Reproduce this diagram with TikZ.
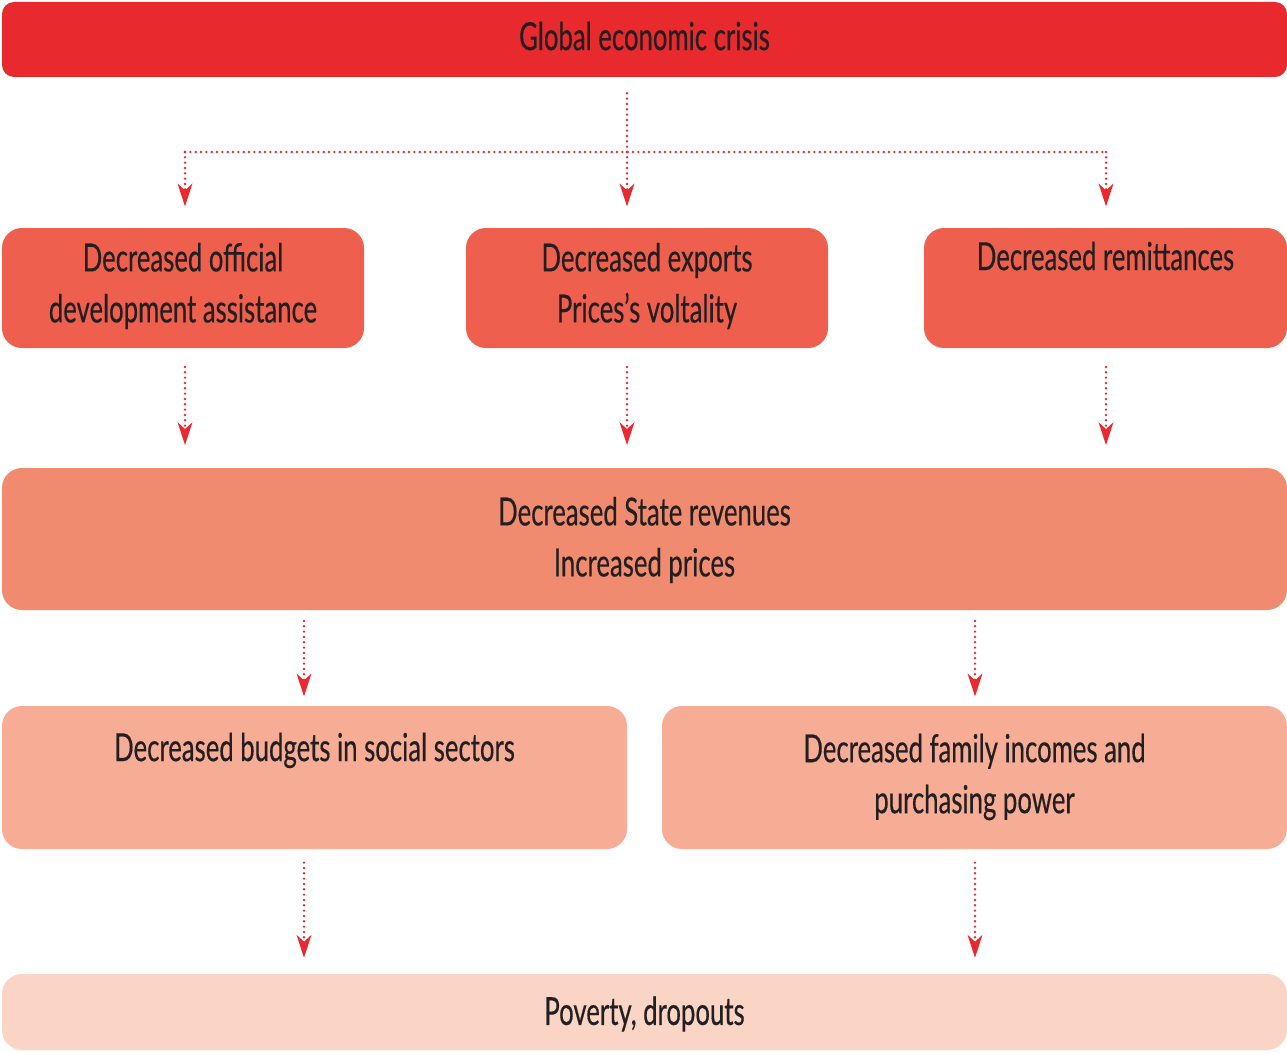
\documentclass[tikz,border=0pt]{standalone}
\usepackage{fontspec}
\setmainfont{Lato}[FakeStretch=0.665, FakeBold=0.35]
\usetikzlibrary{arrows.meta}
\definecolor{cTop}{HTML}{E8292E}
\definecolor{cRowA}{HTML}{EE604D}
\definecolor{cRowB}{HTML}{F18B70}
\definecolor{cRowC}{HTML}{F6AC95}
\definecolor{cRowD}{HTML}{FAD5C5}
\definecolor{cArrow}{HTML}{E8292E}
\definecolor{cText}{HTML}{231F20}
\tikzset{
  boxshape/.style={rounded corners=#1, inner sep=0pt, draw=none},
  txt/.style={align=center, text=cText, inner sep=0pt,
    font=\fontsize{29pt}{38.25pt}\selectfont},
  dotline/.style={draw=cArrow, line width=2pt, line cap=round,
    dash pattern=on 0pt off 4pt},
  dotarrow/.style={dotline, -{Stealth[length=17pt, width=11pt, inset=5pt]}},
}
\begin{document}
\begin{tikzpicture}[x=0.75pt, y=-0.75pt]
\useasboundingbox (0,0) rectangle (1287,1052);
% boxes
\node[boxshape=9pt, fill=cTop, minimum width=963.75pt, minimum height=56.25pt] (top) at (644.5,39.5) {};
\node[txt] (topT) at (644.5,36) {Global economic crisis};

\node[boxshape=15pt, fill=cRowA, minimum width=271.5pt, minimum height=90pt] (oda) at (183,288) {};
\node[txt] (odaT) at (183,286) {Decreased official\\development assistance};
\node[boxshape=15pt, fill=cRowA, minimum width=271.5pt, minimum height=90pt] (exp) at (647,288) {};
\node[txt] (expT) at (647,286) {Decreased exports\\Prices’s voltality};
\node[boxshape=15pt, fill=cRowA, minimum width=272.25pt, minimum height=90pt] (rem) at (1105.5,288) {};
\node[txt] (remT) at (1105.5,289) {Decreased remittances\\\strut};

\node[boxshape=15pt, fill=cRowB, minimum width=963.75pt, minimum height=106.5pt] (state) at (644.5,539) {};
\node[txt] (stateT) at (644.5,540) {Decreased State revenues\\Increased prices};

\node[boxshape=15pt, fill=cRowC, minimum width=468.75pt, minimum height=107.25pt] (bud) at (314.5,777.5) {};
\node[txt] (budT) at (314.5,780) {Decreased budgets in social sectors\\\strut};
\node[boxshape=15pt, fill=cRowC, minimum width=468.75pt, minimum height=107.25pt] (fam) at (974.5,777.5) {};
\node[txt] (famT) at (974.5,777) {Decreased family incomes and\\purchasing power};

\node[boxshape=15pt, fill=cRowD, minimum width=963.75pt, minimum height=57pt] (pov) at (644.5,1012) {};
\node[txt] (povT) at (644.5,1014) {Poverty, dropouts};

% connectors
\coordinate (split) at (627,152);
\coordinate (leftTurn) at (185,152);
\coordinate (rightTurn) at (1106,152);
\draw[dotline] (top.south -| split) ++(0,16) -- (split);
\draw[dotline] (leftTurn) -- (rightTurn);
\draw[dotarrow] (leftTurn) -- ([yshift=16pt]oda.north -| leftTurn);
\draw[dotarrow] (split) -- ([yshift=16pt]exp.north -| split);
\draw[dotarrow] (rightTurn) -- ([yshift=16pt]rem.north -| rightTurn);

\draw[dotarrow] ([yshift=-14pt]oda.south -| leftTurn) -- ([yshift=17pt]state.north -| leftTurn);
\draw[dotarrow] ([yshift=-14pt]exp.south -| split) -- ([yshift=17pt]state.north -| split);
\draw[dotarrow] ([yshift=-14pt]rem.south -| rightTurn) -- ([yshift=17pt]state.north -| rightTurn);

\coordinate (colL) at (304,0);
\coordinate (colR) at (975,0);
\draw[dotarrow] ([yshift=-8pt]state.south -| colL) -- ([yshift=7pt]bud.north -| colL);
\draw[dotarrow] ([yshift=-8pt]state.south -| colR) -- ([yshift=7pt]fam.north -| colR);
\draw[dotarrow] ([yshift=-10pt]bud.south -| colL) -- ([yshift=12pt]pov.north -| colL);
\draw[dotarrow] ([yshift=-10pt]fam.south -| colR) -- ([yshift=12pt]pov.north -| colR);
\end{tikzpicture}
\end{document}
